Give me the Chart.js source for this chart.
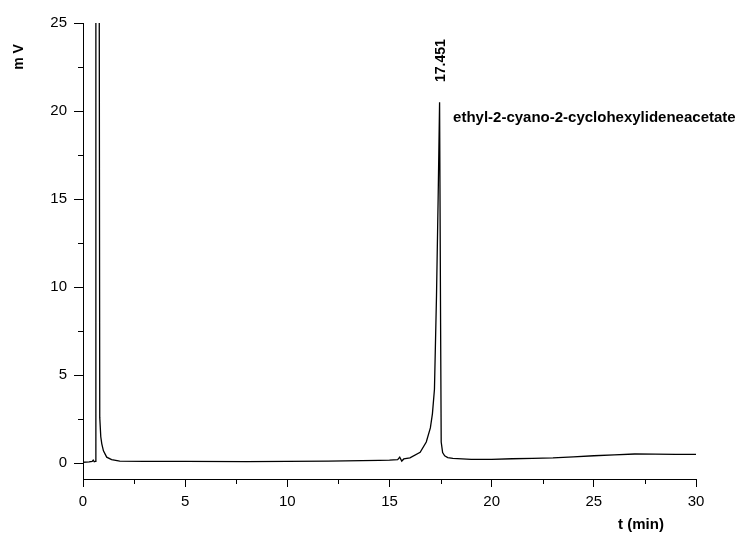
<!DOCTYPE html>
<html>
<head>
<meta charset="utf-8">
<script src="https://cdn.jsdelivr.net/npm/chart.js@4/dist/chart.umd.min.js"></script>
<style>
  html, body { margin:0; padding:0; background:#fff; }
  canvas { display:block; }
</style>
</head>
<body>
<canvas id="chroma" width="743" height="538"></canvas>
<script>
//=========================================
// Data
//=========================================
const times = [
  0, 0.3, 0.45, 0.5, 0.55, 0.6, 0.63, 0.78, 0.82, 0.87, 0.92, 1.0, 1.16, 1.4, 1.8,
  3, 5, 8, 10, 12, 14.5, 15, 15.4, 15.5, 15.6, 15.7, 16.0, 16.5, 16.8, 17.0,
  17.1, 17.2, 17.3, 17.38, 17.451, 17.5, 17.53, 17.6, 17.7, 17.85, 18.1,
  19, 20, 21, 22, 23, 24, 25, 26, 27, 28, 29, 30
];
const signal = [
  0.05, 0.07, 0.1, 0.17, 0.08, 0.1, 40, 40, 2.6, 1.5, 1.1, 0.7, 0.34, 0.2, 0.12,
  0.1, 0.1, 0.09, 0.1, 0.12, 0.16, 0.17, 0.2, 0.34, 0.12, 0.24, 0.3, 0.62, 1.2, 2.0,
  2.8, 4.2, 9.5, 15, 20.5, 8, 1.2, 0.6, 0.42, 0.32, 0.27,
  0.22, 0.22, 0.25, 0.27, 0.3, 0.36, 0.42, 0.47, 0.52, 0.51, 0.5, 0.5
];

const xMajorTicks = [0, 5, 10, 15, 20, 25, 30];
const xMinorTicks = [2.5, 7.5, 12.5, 17.5, 22.5, 27.5];
const yMajorTicks = [0, 5, 10, 15, 20, 25];
const yMinorTicks = [2.5, 7.5, 12.5, 17.5, 22.5];

const peakTime = 17.451;
const peakLabel = "17.451";
const compoundName = "ethyl-2-cyano-2-cyclohexylideneacetate";
const xTitle = "t (min)";
const yTitle = "m V";

const FONT = "'Liberation Sans', Arial, sans-serif";

//------------------------------------
// Minor ticks + annotations
//------------------------------------
const extras = {
  id: "extras",
  afterDraw(chart){
    const ctx = chart.ctx;
    const xs = chart.scales.x;
    const ys = chart.scales.y;
    const area = chart.chartArea;

    ctx.save();
    ctx.strokeStyle = "#000";
    ctx.lineWidth = 1;
    ctx.beginPath();
    xMinorTicks.forEach(function(v){
      const px = Math.round(xs.getPixelForValue(v)) + 0.5;
      ctx.moveTo(px, area.bottom);
      ctx.lineTo(px, area.bottom + 5);
    });
    yMinorTicks.forEach(function(v){
      const py = Math.round(ys.getPixelForValue(v)) + 0.5;
      ctx.moveTo(area.left, py);
      ctx.lineTo(area.left - 5, py);
    });
    ctx.stroke();

    ctx.fillStyle = "#000";

    // y title
    ctx.save();
    ctx.font = "bold 14px " + FONT;
    ctx.translate(19, 57);
    ctx.rotate(-Math.PI / 2);
    ctx.textAlign = "center";
    ctx.textBaseline = "middle";
    ctx.fillText(yTitle, 0, 0);
    ctx.restore();

    // x title
    ctx.font = "bold 15px " + FONT;
    ctx.textAlign = "center";
    ctx.textBaseline = "middle";
    ctx.fillText(xTitle, 641, 525);

    // peak retention time
    ctx.save();
    ctx.font = "bold 14px " + FONT;
    ctx.translate(xs.getPixelForValue(peakTime) + 2, 82);
    ctx.rotate(-Math.PI / 2);
    ctx.textAlign = "left";
    ctx.textBaseline = "middle";
    ctx.fillText(peakLabel, 0, 0);
    ctx.restore();

    // compound name
    ctx.font = "bold 15px " + FONT;
    ctx.textAlign = "left";
    ctx.textBaseline = "middle";
    ctx.fillText(compoundName, xs.getPixelForValue(18.11), ys.getPixelForValue(19.6));

    ctx.restore();
  }
};

const points = times.map(function(t, i){ return { x: t, y: signal[i] }; });

new Chart(document.getElementById("chroma"), {
  type: "line",
  data: {
    datasets: [{
      data: points,
      borderColor: "#000",
      borderWidth: 1.3,
      pointRadius: 0,
      fill: false,
      tension: 0
    }]
  },
  options: {
    responsive: false,
    animation: false,
    layout: { padding: { top: 23, right: 47, left: 0, bottom: 0 } },
    plugins: { legend: { display: false }, tooltip: { enabled: false } },
    scales: {
      x: {
        type: "linear",
        min: 0,
        max: 30,
        afterFit(scale){ scale.height = 59; },
        afterBuildTicks(scale){ scale.ticks = xMajorTicks.map(function(v){ return { value: v }; }); },
        border: { display: true, color: "#000", width: 1 },
        grid: { drawOnChartArea: false, drawTicks: true, tickLength: 8, tickColor: "#000" },
        ticks: { color: "#000", padding: 6, maxRotation: 0, font: { family: FONT, size: 15 } }
      },
      y: {
        min: -0.9,
        max: 25,
        afterFit(scale){ scale.width = 83; },
        afterBuildTicks(scale){ scale.ticks = yMajorTicks.map(function(v){ return { value: v }; }); },
        border: { display: true, color: "#000", width: 1 },
        grid: { drawOnChartArea: false, drawTicks: true, tickLength: 9, tickColor: "#000" },
        ticks: { color: "#000", padding: 7, font: { family: FONT, size: 15 } }
      }
    }
  },
  plugins: [extras]
});
</script>
</body>
</html>
